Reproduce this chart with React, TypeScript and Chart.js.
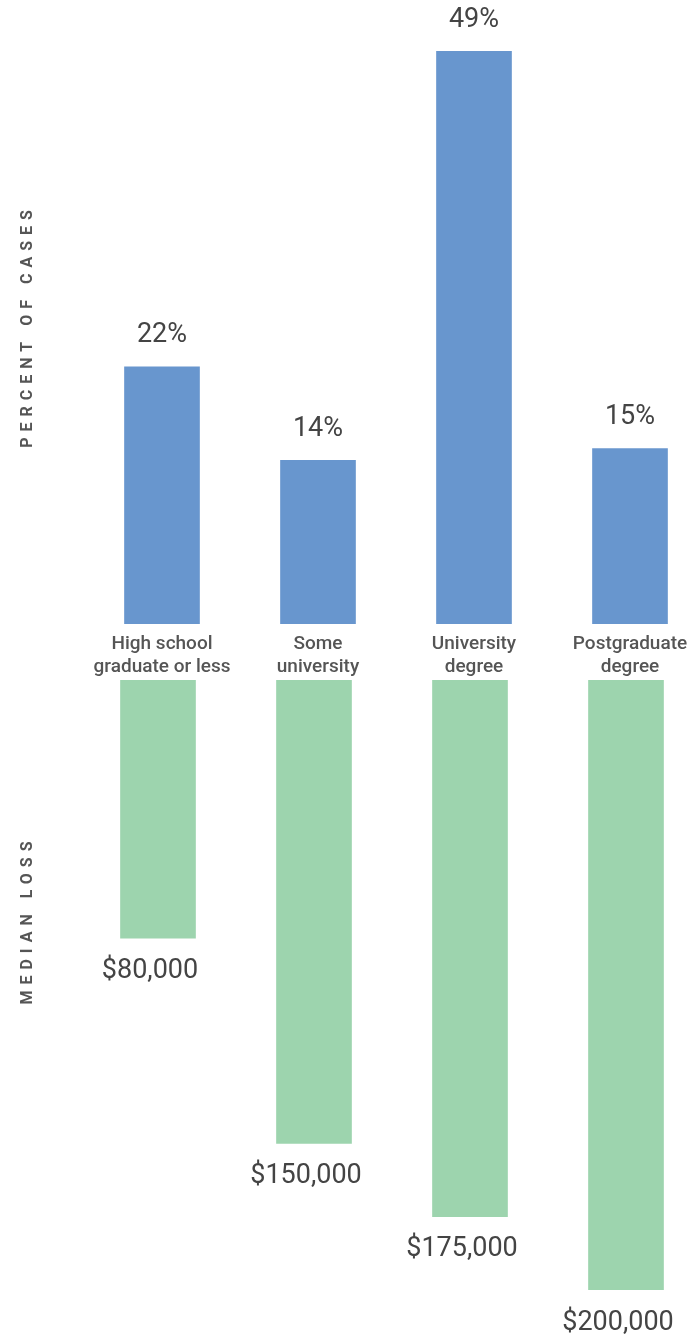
import React, { useEffect, useRef } from "react";
import { Chart, registerables } from "chart.js";

Chart.register(...registerables);

const categories: string[][] = [
  ["High school", "graduate or less"],
  ["Some", "university"],
  ["University", "degree"],
  ["Postgraduate", "degree"],
];
const percentOfCases: number[] = [22, 14, 49, 15];
const medianLoss: number[] = [80000, 150000, 175000, 200000];

const topTitle = "PERCENT OF CASES";
const bottomTitle = "MEDIAN LOSS";

const BLUE = "#6896CE";
const GREEN = "#9DD4AE";
const TEXT = "#444444";
const LOSS_BASE = -8000;

const valueLabelPlugin = {
  id: "valueLabels",
  afterDatasetsDraw(chart: any, _args: any, opts: any) {
    const ctx = chart.ctx;
    const meta = chart.getDatasetMeta(0);
    const values = chart.data.datasets[0].data as number[];
    ctx.save();
    ctx.font = opts.font;
    ctx.fillStyle = opts.color;
    ctx.textAlign = "center";
    ctx.textBaseline = "middle";
    meta.data.forEach((bar: any, i: number) => {
      ctx.fillText(opts.format(values[i]), bar.x + opts.dx, bar.y + opts.dy);
    });
    ctx.restore();
  },
};

const sideTitlePlugin = {
  id: "sideTitle",
  afterDraw(chart: any, _args: any, opts: any) {
    const ctx = chart.ctx;
    ctx.save();
    ctx.translate(opts.x, opts.y);
    ctx.rotate(-Math.PI / 2);
    ctx.font = opts.font;
    ctx.fillStyle = opts.color;
    (ctx as any).letterSpacing = opts.spacing;
    ctx.textAlign = "center";
    ctx.textBaseline = "middle";
    ctx.fillText(opts.text, 0, 0);
    ctx.restore();
  },
};

export default function App() {
  const topRef = useRef<HTMLCanvasElement | null>(null);
  const bottomRef = useRef<HTMLCanvasElement | null>(null);

  useEffect(() => {
    const top = new Chart(topRef.current!, {
      type: "bar",
      data: {
        labels: categories,
        datasets: [
          {
            data: percentOfCases,
            backgroundColor: BLUE,
            barThickness: 75,
          },
        ],
      },
      plugins: [valueLabelPlugin, sideTitlePlugin],
      options: {
        animation: false,
        responsive: false,
        layout: { padding: { left: 84, right: 8, top: 51, bottom: 0 } },
        scales: {
          x: {
            grid: { display: false, drawTicks: false },
            border: { display: false },
            ticks: {
              color: "#555555",
              font: { family: "Roboto", size: 19, weight: "500", lineHeight: 1.2 },
              padding: 9,
              maxRotation: 0,
              autoSkip: false,
            },
            afterFit: (scale: any) => {
              scale.height = 56;
            },
          },
          y: {
            display: false,
            min: 0,
            max: Math.max(...percentOfCases),
          },
        },
        plugins: {
          legend: { display: false },
          tooltip: { enabled: false },
          valueLabels: {
            font: "400 27px Roboto",
            color: TEXT,
            dx: 0,
            dy: -31,
            format: (v: number) => `${v}%`,
          },
          sideTitle: {
            text: topTitle,
            x: 28,
            y: 326,
            font: "700 16px Roboto",
            color: "#555555",
            spacing: "6px",
          },
        } as any,
      },
    });

    const bottom = new Chart(bottomRef.current!, {
      type: "bar",
      data: {
        labels: categories,
        datasets: [
          {
            data: medianLoss,
            backgroundColor: GREEN,
            barThickness: 75,
            base: LOSS_BASE,
          },
        ],
      },
      plugins: [valueLabelPlugin, sideTitlePlugin],
      options: {
        animation: false,
        responsive: false,
        layout: { padding: { left: 80, right: 12, top: 0, bottom: 50 } },
        scales: {
          x: { display: false },
          y: {
            display: false,
            reverse: true,
            min: LOSS_BASE,
            max: Math.max(...medianLoss),
          },
        },
        plugins: {
          legend: { display: false },
          tooltip: { enabled: false },
          valueLabels: {
            font: "400 27px Roboto",
            color: TEXT,
            dx: -8,
            dy: 33,
            format: (v: number) => "$" + v.toLocaleString("en-US"),
          },
          sideTitle: {
            text: bottomTitle,
            x: 28,
            y: 240,
            font: "700 16px Roboto",
            color: "#555555",
            spacing: "6px",
          },
        } as any,
      },
    });

    return () => {
      top.destroy();
      bottom.destroy();
    };
  }, []);

  return (
    <div
      style={{
        position: "absolute",
        left: 0,
        top: 0,
        width: 700,
        height: 1340,
        overflow: "hidden",
        background: "#ffffff",
      }}
    >
      <canvas
        ref={topRef}
        width={716}
        height={680}
        style={{ position: "absolute", left: 0, top: 0, width: 716, height: 680 }}
      />
      <canvas
        ref={bottomRef}
        width={716}
        height={660}
        style={{ position: "absolute", left: 0, top: 680, width: 716, height: 660 }}
      />
    </div>
  );
}
